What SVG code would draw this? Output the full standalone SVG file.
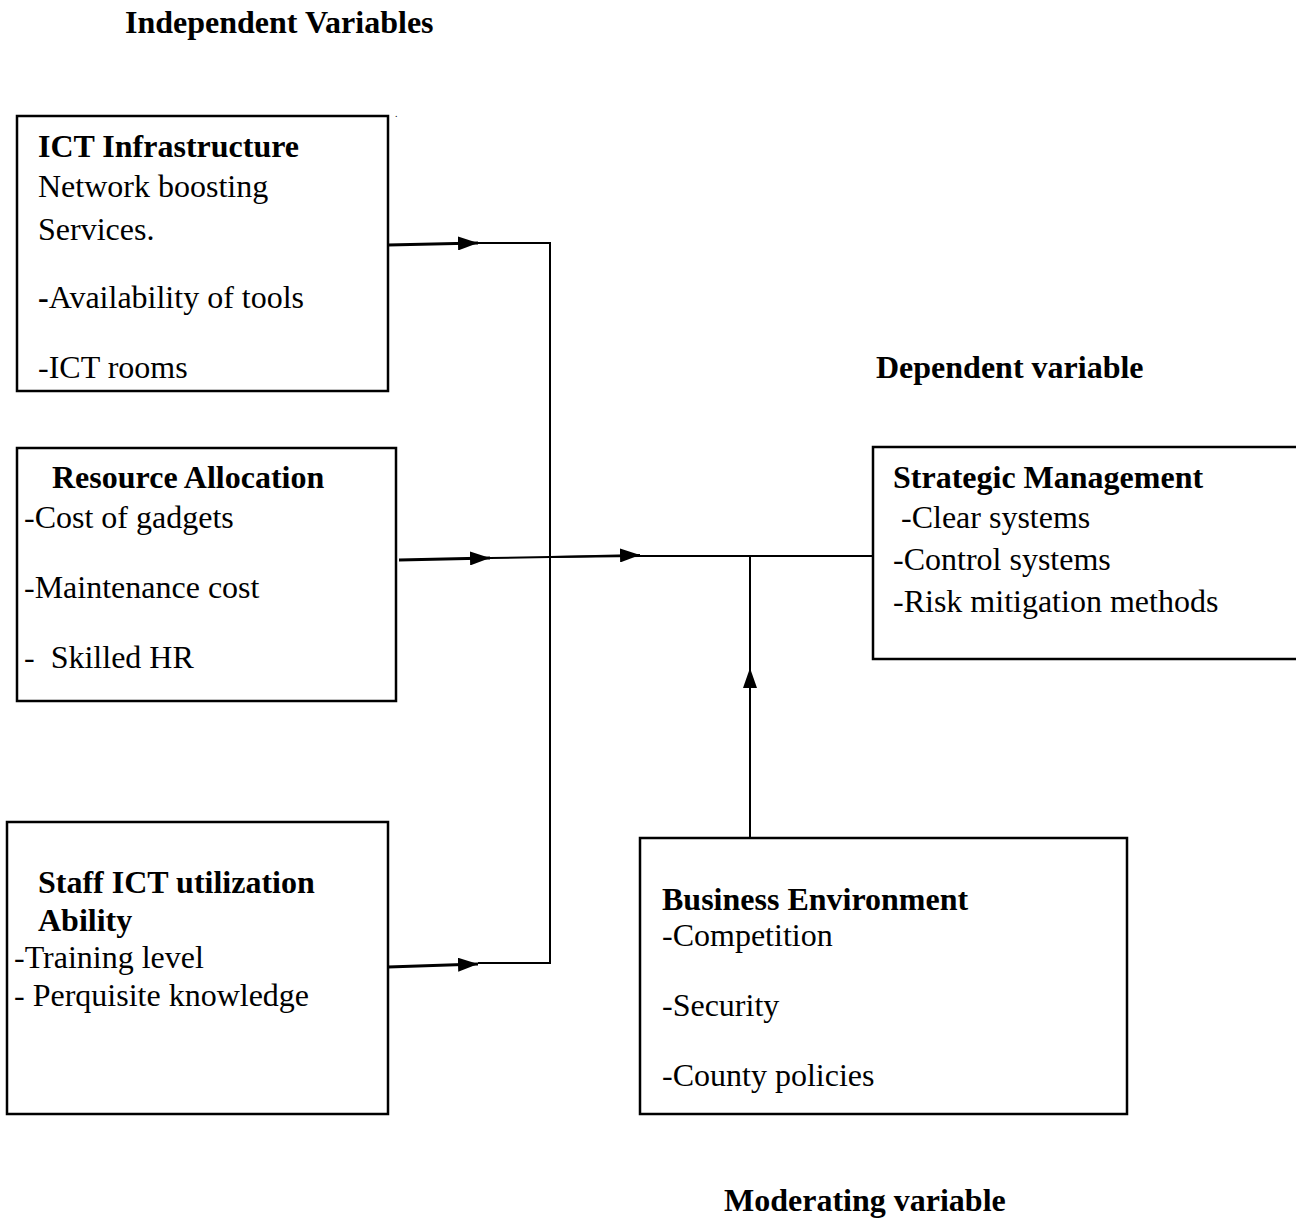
<svg xmlns="http://www.w3.org/2000/svg" width="1296" height="1231" viewBox="0 0 1296 1231">
<style>
text{font-family:"Liberation Serif","Times New Roman",serif;font-size:32px;fill:#000}
.b{font-weight:bold}
.box{fill:#fff;stroke:#000;stroke-width:2.5}
.ln{fill:none;stroke:#000;stroke-width:2}
.ar{fill:none;stroke:#000;stroke-width:3}
</style>
<defs>
<marker id="ah" viewBox="0 0 20 14" refX="20" refY="7" markerWidth="20" markerHeight="14" markerUnits="userSpaceOnUse" orient="auto">
<path d="M0,0 L20,7 L0,14 Z" fill="#000"/>
</marker>
</defs>
<rect width="1296" height="1231" fill="#fff"/>
<g id="labels">
<text class="b" x="125" y="33">Independent Variables</text>
<text class="b" x="876" y="378">Dependent variable</text>
<text class="b" x="724" y="1211">Moderating variable</text>
<text x="395" y="117" style="font-size:10px">.</text>
</g>
<g id="connectors">
<path class="ar" d="M388,245 L478,243" marker-end="url(#ah)"/>
<path class="ln" d="M478,243 L550,243 L550,963 L478,963"/>
<path class="ar" d="M388,967 L478,964" marker-end="url(#ah)"/>
<path class="ar" d="M399,560 L490,558" marker-end="url(#ah)"/>
<path class="ln" d="M490,558 L550,557 L640,556"/>
<path class="ln" d="M551,557 L640,555" marker-end="url(#ah)"/>
<path class="ln" d="M640,556 L873,556"/>
<path class="ln" d="M750,556 L750,838"/>
<path class="ln" d="M750,838 L750,668" marker-end="url(#ah)"/>
</g>
<g id="node-ict">
<rect class="box" x="17" y="116" width="371" height="275"/>
<text class="b" x="38" y="157">ICT Infrastructure</text>
<text x="38" y="197">Network boosting</text>
<text x="38" y="240">Services.</text>
<text x="38" y="308"><tspan class="b">-</tspan>Availability of tools</text>
<text x="38" y="378">-ICT rooms</text>
</g>
<g id="node-resource">
<rect class="box" x="17" y="448" width="379" height="253"/>
<text class="b" x="52" y="488">Resource Allocation</text>
<text x="24" y="528">-Cost of gadgets</text>
<text x="24" y="598">-Maintenance cost</text>
<text x="24" y="668" xml:space="preserve">-  Skilled HR</text>
</g>
<g id="node-staff">
<rect class="box" x="7" y="822" width="381" height="292"/>
<text class="b" x="38" y="893">Staff ICT utilization</text>
<text class="b" x="38" y="931">Ability</text>
<text x="14" y="968">-Training level</text>
<text x="14" y="1006">- Perquisite knowledge</text>
</g>
<g id="node-strategic">
<rect class="box" x="873" y="447" width="430" height="212"/>
<text class="b" x="893" y="488">Strategic Management</text>
<text x="893" y="528" xml:space="preserve"> -Clear systems</text>
<text x="893" y="570">-Control systems</text>
<text x="893" y="612">-Risk mitigation methods</text>
</g>
<g id="node-business">
<rect class="box" x="640" y="838" width="487" height="276"/>
<text class="b" x="662" y="910">Business Environment</text>
<text x="662" y="946">-Competition</text>
<text x="662" y="1016">-Security</text>
<text x="662" y="1086">-County policies</text>
</g>
</svg>
